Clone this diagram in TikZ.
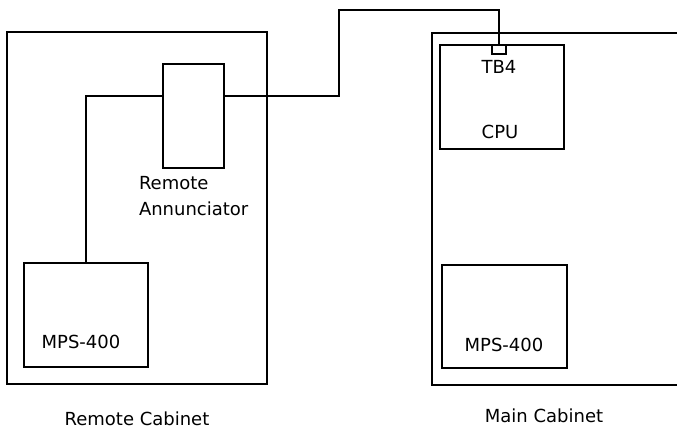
\documentclass[tikz,border=0pt]{standalone}
\usepackage{fontspec}
\setmainfont{DejaVu Sans}
\usetikzlibrary{positioning, calc}

\begin{document}
\begin{tikzpicture}[
    x=1pt, y=-1pt,
    line width=2pt,
    cabbox/.style={draw, rectangle, inner sep=0pt},
    unitbox/.style={draw, rectangle, inner sep=0pt, fill=white},
    txt/.style={font=\fontsize{18}{21}\selectfont, inner sep=0pt},
    wire/.style={line width=2pt}
]

% 0. Frame
\clip (0,0) rectangle (677,429);
\useasboundingbox (0,0) rectangle (677,429);

% 1. Cabinets
\node[cabbox, minimum width=260pt, minimum height=352pt] (remcab) at (137,208) {};
\node[cabbox, minimum width=270pt, minimum height=352pt] (maincab) at (567,209) {};

% 2. Units inside the cabinets
\node[unitbox, minimum width=61pt, minimum height=104pt] (ann) at (193.5,116) {};
\node[unitbox, minimum width=124pt, minimum height=104pt] (rmps) at (86,315) {};
\node[unitbox, minimum width=124pt, minimum height=104pt] (cpu) at (502,97) {};
\node[unitbox, minimum width=125pt, minimum height=103pt] (mmps) at (504.5,316.5) {};
\node[unitbox, minimum width=14pt, minimum height=9pt, line width=1.5pt] (tb) at (499,49.5) {};

% 3. Labels
\node[txt, anchor=north west, align=left] (annlbl) at (138,175) {Remote\\[5pt]Annunciator};
\node[txt] (tblbl) at (499,67) {TB4};
\node[txt] (cpulbl) at (500,132) {CPU};
\node[txt] (rmpslbl) at (81,342) {MPS-400};
\node[txt] (mmpslbl) at (504,345) {MPS-400};
\node[txt] (remcablbl) at (137,419) {Remote Cabinet};
\node[txt] (maincablbl) at (544,416) {Main Cabinet};

% 4. Wiring
\coordinate (bend) at (339,10);
\draw[wire] (tb.north) |- (bend) |- ([yshift=20pt]ann.east);
\draw[wire] ([yshift=20pt]ann.west) -| (rmps.north);

\end{tikzpicture}
\end{document}
